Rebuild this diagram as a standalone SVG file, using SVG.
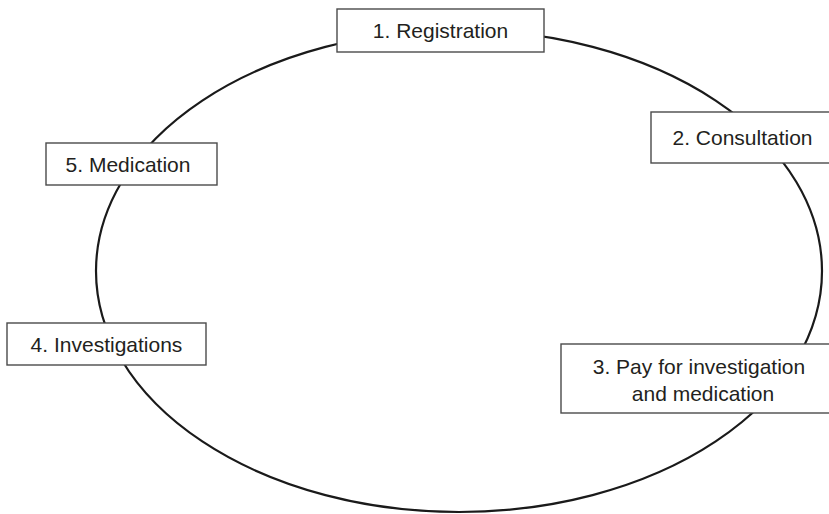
<svg xmlns="http://www.w3.org/2000/svg" width="829" height="514" viewBox="0 0 829 514">
  <style>
    .box { fill: #ffffff; stroke: #4a4a4a; stroke-width: 1.4; }
    .label { font-family: "Liberation Sans", Arial, sans-serif; font-size: 21px; fill: #231f20; text-anchor: middle; }
    .cycle { fill: none; stroke: #1a1a1a; stroke-width: 2.2; }
  </style>
  <rect width="829" height="514" fill="#ffffff"/>

  <!-- the care cycle -->
  <g id="connectors">
    <ellipse class="cycle" cx="459" cy="271" rx="363" ry="241"/>
  </g>

  <g id="registration">
    <rect class="box" x="337" y="9" width="207" height="43"/>
    <text class="label" x="440.5" y="38">1. Registration</text>
  </g>

  <g id="consultation">
    <rect class="box" x="651" y="112" width="190" height="51"/>
    <text class="label" x="742.5" y="145">2. Consultation</text>
  </g>

  <g id="payment">
    <rect class="box" x="561" y="344" width="280" height="69"/>
    <text class="label" x="699" y="374">3. Pay for investigation</text>
    <text class="label" x="703" y="401">and medication</text>
  </g>

  <g id="investigations">
    <rect class="box" x="7" y="323" width="199" height="42"/>
    <text class="label" x="106.5" y="351.5">4. Investigations</text>
  </g>

  <g id="medication">
    <rect class="box" x="46" y="143" width="171" height="42"/>
    <text class="label" x="128" y="171.5">5. Medication</text>
  </g>
</svg>
